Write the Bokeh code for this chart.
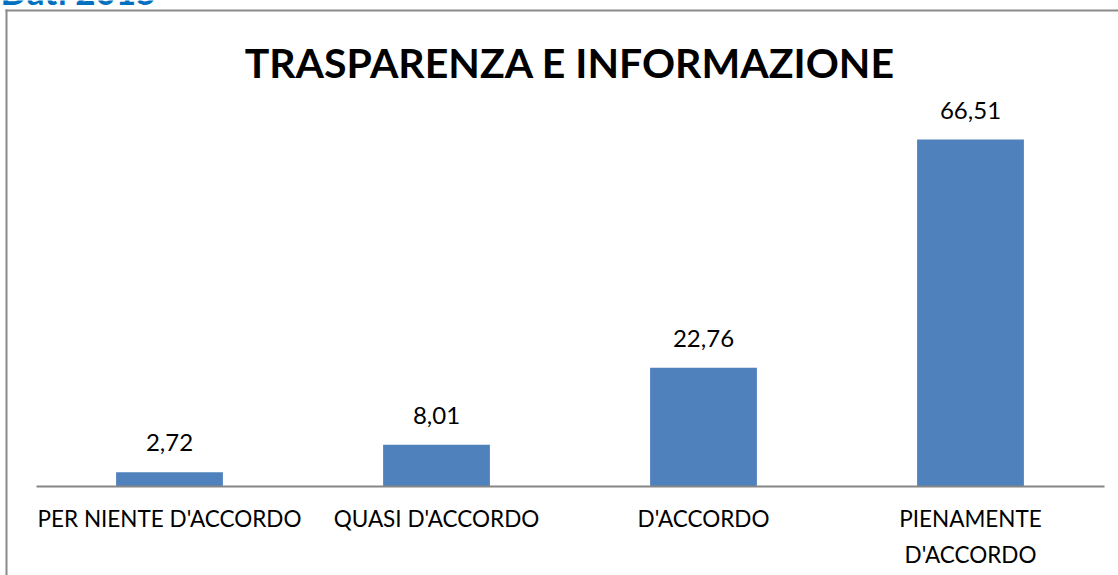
from bokeh.plotting import figure
from bokeh.models import (ColumnDataSource, LabelSet, Range1d, Label, LinearAxis,
                          FixedTicker, BoxAnnotation)
from bokeh.core.properties import value
from bokeh.embed import file_html
from bokeh.resources import INLINE

categories = ["PER NIENTE D'ACCORDO", "QUASI D'ACCORDO", "D'ACCORDO", "PIENAMENTE\nD'ACCORDO"]
values = [2.72, 8.01, 22.76, 66.51]
value_labels = ["2,72", "8,01", "22,76", "66,51"]
title_text = "TRASPARENZA E INFORMAZIONE"
heading_text = "Dati 2015"

FONT = "Lato"
BAR = "#4F81BD"
BORDER = "#8a8a8a"
W, H = 1118, 575

positions = list(range(len(categories)))
src = ColumnDataSource(dict(x=positions, val=values, lab=value_labels))

# frame spans the whole canvas; px per category = 267, first centre at 169 px
x_start = -169 / 267
y_start = -(H - 486) / (347 / 66.51)
y_end = 486 / (347 / 66.51)
p = figure(width=W, height=H, x_range=Range1d(x_start, x_start + W / 267),
           y_range=Range1d(y_start, y_end), output_backend="svg", toolbar_location=None,
           x_axis_location=None, y_axis_location=None,
           min_border_left=0, min_border_right=0, min_border_top=0, min_border_bottom=0)
p.xgrid.visible = False
p.ygrid.visible = False
p.outline_line_color = None

# chart-area border: only its left and top edges fall inside the page
p.add_layout(BoxAnnotation(left=5, right=7, top=H - 9, bottom=-200,
                           left_units="screen", right_units="screen",
                           top_units="screen", bottom_units="screen",
                           fill_color=BORDER, fill_alpha=1, line_color=None))
p.add_layout(BoxAnnotation(left=5, right=W + 200, top=H - 9, bottom=H - 11,
                           left_units="screen", right_units="screen",
                           top_units="screen", bottom_units="screen",
                           fill_color=BORDER, fill_alpha=1, line_color=None))

p.vbar(x="x", top="val", width=0.4, source=src, fill_color=BAR, line_color=None)
p.add_layout(LabelSet(x="x", y="val", text="lab", source=src, y_offset=21,
                      text_align="center", text_baseline="bottom",
                      text_font=value(FONT), text_font_size=value("24px"), text_color="#000000"))

ax = LinearAxis(fixed_location=0, ticker=FixedTicker(ticks=positions),
                bounds=(-0.5, len(categories) - 0.5))
ax.major_label_overrides = {i: c for i, c in zip(positions, categories)}
ax.axis_line_color = "#868686"
ax.axis_line_width = 2
ax.major_tick_line_color = None
ax.minor_tick_line_color = None
ax.major_label_text_font = FONT
ax.major_label_text_font_size = "22.5px"
ax.major_label_text_color = "#000000"
ax.major_label_standoff = 12
ax.major_label_text_line_height = 1.35
p.add_layout(ax, "below")

# chart title
p.add_layout(Label(x=(positions[0] + positions[-1]) / 2, y=H - 62, x_units="data", y_units="screen",
                   text=title_text, text_align="center", text_baseline="alphabetic",
                   text_font=FONT, text_font_size="41px", text_font_style="bold",
                   text_color="#000000"))

# heading above the chart, cut off by the top of the page
p.add_layout(Label(x=0, y=H + 10, x_units="screen", y_units="screen", text=heading_text,
                   text_font=FONT, text_font_size="35px", text_font_style="bold",
                   text_color="#0070C0", text_baseline="alphabetic", text_align="left"))

open("out.html", "w").write(file_html(p, INLINE))
